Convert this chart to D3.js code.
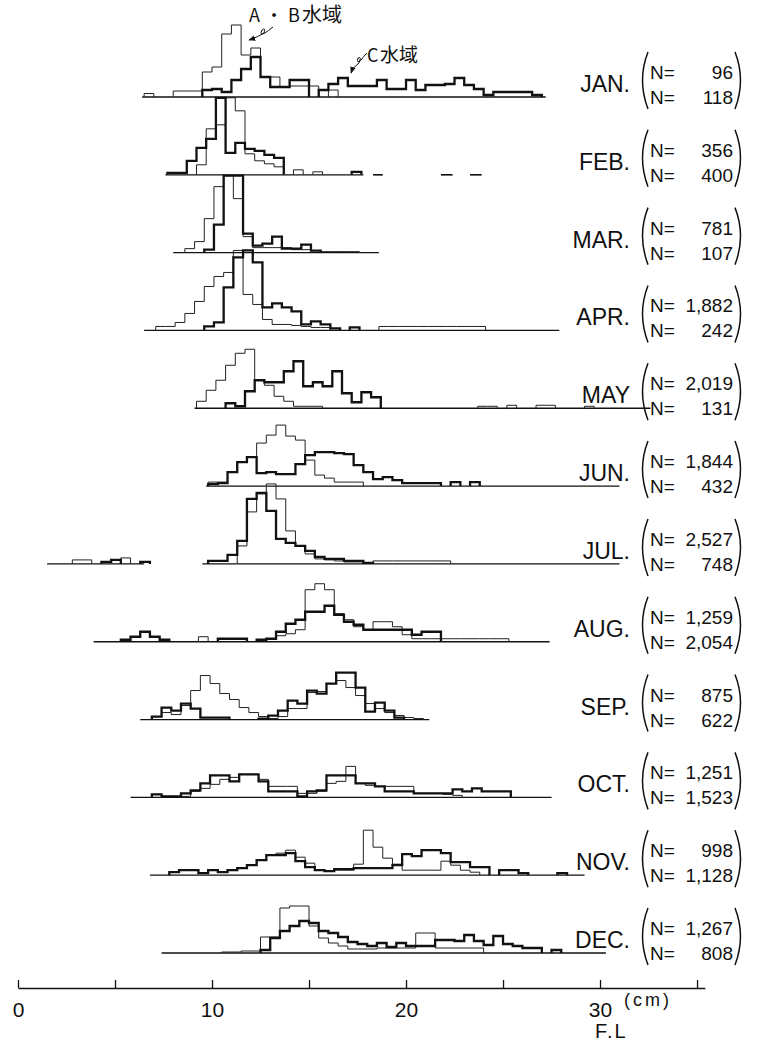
<!DOCTYPE html>
<html>
<head>
<meta charset="utf-8">
<script src="https://cdn.jsdelivr.net/npm/d3@7/dist/d3.min.js"></script>
<style>
body { margin: 0; background: #fff; }
text { fill: #111; }
</style>
</head>
<body>
<svg id="chart" width="763" height="1045"></svg>
<script>
// months, sample sizes (upper = A·B waters, lower = C waters)
var months = ["JAN.", "FEB.", "MAR.", "APR.", "MAY", "JUN.", "JUL.", "AUG.", "SEP.", "OCT.", "NOV.", "DEC."];
var nAB = ["96", "356", "781", "1,882", "2,019", "1,844", "2,527", "1,259", "875", "1,251", "998", "1,267"];
var nC = ["118", "400", "107", "242", "131", "432", "748", "2,054", "622", "1,523", "1,128", "808"];

// relative frequency per 0.5 cm class, A·B waters (thin line)
var abStart = [6.5, 9.2, 8.6, 7.1, 9.2, 9.8, 2.8, 5.3, 6.9, 6.9, 7.8, 10.5];
var abFreq = [
  [3.5,0,0,6,6,6,25,30,63,72,42,49,20,20,10,11,11,11,0,7],
  [10,46,50,77,64,21,14,11,8,0,5,0,3],
  [4,11,34,66,77,54,16,5,5,5,5,3,3,2,1,1,1,1],
  [4,4,8,17,29,44,54,58,80,36,26,11,6,6,5,4,3,3,0,0,0,0,0,4,4,4,4,4,4,4,4,4,4,4],
  [7,18,28,43,55,59,28,23,12,7,2,2,2,0,0,0,0,0,0,0,0,0,0,0,0,0,0,0,0,2,2,0,3,0,0,3,3,0,0,0,2],
  [4,4,14,24,29,43,51,61,50,46,26,11,8,4,4,4],
  [4,4,0,0,0,6,0,0,0,0,0,0,0,0,0,0,0,18,52,70,80,65,33,18,10,5,4,3,2,2,0,3,3,3,3,3,3,3,3],
  [2,5,10,5,2,0,0,0,5,0,3,3,3,0,2,3,6,8,12,52,58,52,28,22,15,12,20,20,15,7,3,3,3,3,3,3,3,3,3,3],
  [3,7,5,14,29,44,36,26,20,12,7,3,1,3,11,11,27,28,36,39,32,24,16,11,7,4,2,1],
  [3,1,1,1,6,9,13,18,20,23,23,18,11,11,11,4,4,6,14,16,31,14,12,11,11,11,11,4,4,4,3,2],
  [3,5,5,2,5,3,5,7,10,15,20,22,25,18,12,5,4,5,5,11,45,28,17,11,5,5,5,5,14,10,5,3],
  [1,1,2,2,16,16,45,47,47,27,15,10,7,4,4,4,5,5,5,5,20,20,5,5,5,5,5]
];

// relative frequency per 0.5 cm class, C waters (thick line)
var cStart = [9.5, 7.7, 9.6, 9.6, 10.7, 9.8, 4.3, 5.3, 6.9, 6.9, 7.8, 12.5];
var cFreq = [
  [7,8,5,17,28,40,20,10,10,17,17,0,7,13,19,11,11,11,17,8,8,17,7,12,12,13,19,12,8,2,5,5,5,5,2],
  [2,2,14,27,36,77,22,32,26,24,20,17,0,0,0,0,0,0,0,3],
  [3,28,77,77,19,7,9,16,4,4,8,2],
  [4,8,43,73,80,68,23,27,23,19,6,9,6,2,0,3],
  [5,2,17,28,26,26,37,47,22,26,22,37,15,6,16,11],
  [2,3,14,24,29,13,14,12,12,22,31,34,34,33,32,21,14,7,9,6,3,3,3,3,0,4,0,4],
  [2,4,0,0,2,0,0,0,0,0,0,3,3,9,23,65,71,53,25,21,18,13,7,5,5,3,3,1],
  [2,5,10,5,2,0,0,0,0,0,3,3,3,0,2,3,10,18,22,30,30,36,27,20,17,12,12,12,12,12,7,10,10],
  [3,12,9,16,11,2,2,2,0,0,0,1,4,9,19,16,29,26,36,47,47,32,8,17,9,2],
  [3,1,1,4,7,14,22,22,16,23,23,16,6,6,6,1,6,7,22,22,22,14,14,11,6,6,6,4,4,4,4,8,6,9,6,6,6],
  [3,5,5,2,5,3,5,7,10,15,20,20,22,14,8,5,4,6,6,7,7,7,7,10,21,19,25,25,22,13,13,8,8,0,5,5,2,0,0,0,2],
  [3,15,22,27,32,30,22,20,16,11,9,7,10,6,10,7,7,7,13,13,12,18,12,8,17,9,7,5,5,0,3]
];

// extent of each month's base line (cm)
var baseRuns = [
  [[6.4, 27.2]], [[7.6, 17.8]], [[8.0, 18.6]], [[6.5, 27.9]], [[9.1, 32.6]], [[9.7, 31.0]],
  [[1.5, 6.5], [9.5, 31.0]], [[3.9, 27.4]], [[6.3, 21.2]], [[5.8, 27.5]], [[6.8, 29.2]], [[7.4, 30.3]]
];
var febMarks = [[18.3, 18.8], [21.8, 22.4], [23.3, 23.9]];

var axisTicks = [0, 5, 10, 15, 20, 25, 30, 35];
var binWidth = 0.5;

var svg = d3.select("#chart");
var sans = "Liberation Sans, Arial, sans-serif";
var cjk = "Noto Sans CJK JP, sans-serif";

var x = d3.scaleLinear().domain([0, 35.4]).range([18, 704.8]);
var panel = d3.scalePoint().domain(months).range([97, 953]);
var h = d3.scaleLinear().domain([0, 100]).range([0, 100]);

// split a histogram into runs of non-empty classes
function runs(start, vals) {
  var out = [], cur = null;
  vals.forEach(function(v, i) {
    if (v > 0) {
      if (!cur) { cur = []; out.push(cur); }
      cur.push([start + i * binWidth, v]);
    } else cur = null;
  });
  return out.map(function(r) {
    var pts = [[r[0][0], 0]].concat(r);
    pts.push([r[r.length - 1][0] + binWidth, 0]);
    return pts;
  });
}

months.forEach(function(m, i) {
  var y0 = panel(m);
  var g = svg.append("g");
  var line = d3.line()
    .x(function(d) { return x(d[0]); })
    .y(function(d) { return y0 - h(d[1]); })
    .curve(d3.curveStepAfter);

  g.selectAll("line.base")
    .data(baseRuns[i])
    .enter().append("line")
    .attr("x1", function(d) { return x(d[0]); })
    .attr("x2", function(d) { return x(d[1]); })
    .attr("y1", y0).attr("y2", y0)
    .attr("stroke", "#111").attr("stroke-width", 1.3);

  g.selectAll("path.ab")
    .data(runs(abStart[i], abFreq[i]))
    .enter().append("path")
    .attr("d", line)
    .attr("fill", "none").attr("stroke", "#222").attr("stroke-width", 1);

  g.selectAll("path.c")
    .data(runs(cStart[i], cFreq[i]))
    .enter().append("path")
    .attr("d", line)
    .attr("fill", "none").attr("stroke", "#111").attr("stroke-width", 2.3);

  if (m == "FEB.") {
    g.selectAll("line.mark")
      .data(febMarks)
      .enter().append("line")
      .attr("x1", function(d) { return x(d[0]); })
      .attr("x2", function(d) { return x(d[1]); })
      .attr("y1", y0).attr("y2", y0)
      .attr("stroke", "#111").attr("stroke-width", 1.6);
  }

  // month label
  g.append("text")
    .attr("x", 630).attr("y", y0 - 5)
    .attr("text-anchor", "end")
    .attr("font-family", sans)
    .attr("font-size", 23)
    .text(m);

  // sample sizes in a tall bracket
  var lp = 648, rp = 735;
  g.append("path")
    .attr("d", "M" + lp + "," + (y0 - 45) + "Q" + (lp - 11) + "," + (y0 - 17) + " " + lp + "," + (y0 + 12))
    .attr("fill", "none").attr("stroke", "#111").attr("stroke-width", 1.5);
  g.append("path")
    .attr("d", "M" + rp + "," + (y0 - 45) + "Q" + (rp + 11) + "," + (y0 - 17) + " " + rp + "," + (y0 + 12))
    .attr("fill", "none").attr("stroke", "#111").attr("stroke-width", 1.5);

  [[nAB[i], y0 - 18], [nC[i], y0 + 7]].forEach(function(d) {
    g.append("text")
      .attr("x", 650).attr("y", d[1])
      .attr("font-family", sans)
      .attr("font-size", 19)
      .text("N=");
    g.append("text")
      .attr("x", 733).attr("y", d[1])
      .attr("text-anchor", "end")
      .attr("font-family", sans)
      .attr("font-size", 19)
      .text(d[0]);
  });
});

// annotations for the two waters
svg.append("defs").append("marker")
  .attr("id", "head")
  .attr("viewBox", "0 0 10 10")
  .attr("refX", 9).attr("refY", 5)
  .attr("markerWidth", 7).attr("markerHeight", 7)
  .attr("orient", "auto")
  .append("path").attr("d", "M0,1L10,5L0,9Z").attr("fill", "#111");

var ab = svg.append("g").attr("font-family", cjk).attr("font-size", 18);
ab.append("text").attr("x", 249).attr("y", 22).text("A");
ab.append("text").attr("x", 274).attr("y", 22).attr("text-anchor", "middle").text("・");
ab.append("text").attr("x", 288).attr("y", 22).text("B");
ab.append("text").attr("x", 302).attr("y", 22).attr("font-size", 20).text("水域");
svg.append("path")
  .attr("d", "M273,27 Q268,31 265,33 Q259,36 262,30 Q266,27 264,33 Q258,37 249,40")
  .attr("fill", "none").attr("stroke", "#111").attr("stroke-width", 1)
  .attr("marker-end", "url(#head)");

var cw = svg.append("g").attr("font-family", cjk).attr("font-size", 18);
cw.append("text").attr("x", 367).attr("y", 62).text("C");
cw.append("text").attr("x", 380).attr("y", 62).attr("font-size", 19).text("水域");
svg.append("path")
  .attr("d", "M367,53 Q363,57 361,60 Q356,64 358,58 Q362,56 359,63 Q353,67 351,73")
  .attr("fill", "none").attr("stroke", "#111").attr("stroke-width", 1)
  .attr("marker-end", "url(#head)");

// fork length axis
var axis = svg.append("g")
  .attr("transform", "translate(0,988)")
  .call(d3.axisBottom(x)
    .tickValues(axisTicks)
    .tickSize(-8)
    .tickSizeOuter(0)
    .tickPadding(14)
    .tickFormat(function(d) { return d % 10 == 0 ? d : ""; }));
axis.select(".domain").attr("stroke", "#111").attr("stroke-width", 1.3);
axis.selectAll(".tick line").attr("stroke", "#111").attr("stroke-width", 1.3);
axis.selectAll(".tick text")
  .attr("font-family", sans)
  .attr("font-size", 21)
  .attr("fill", "#111");

svg.append("text")
  .attr("x", 624).attr("y", 1006)
  .attr("font-family", sans)
  .attr("font-size", 18)
  .attr("letter-spacing", 3)
  .text("(cm)");
svg.append("text")
  .attr("x", 595).attr("y", 1038)
  .attr("font-family", sans)
  .attr("font-size", 20)
  .attr("letter-spacing", 2)
  .text("F.L");
</script>
</body>
</html>
